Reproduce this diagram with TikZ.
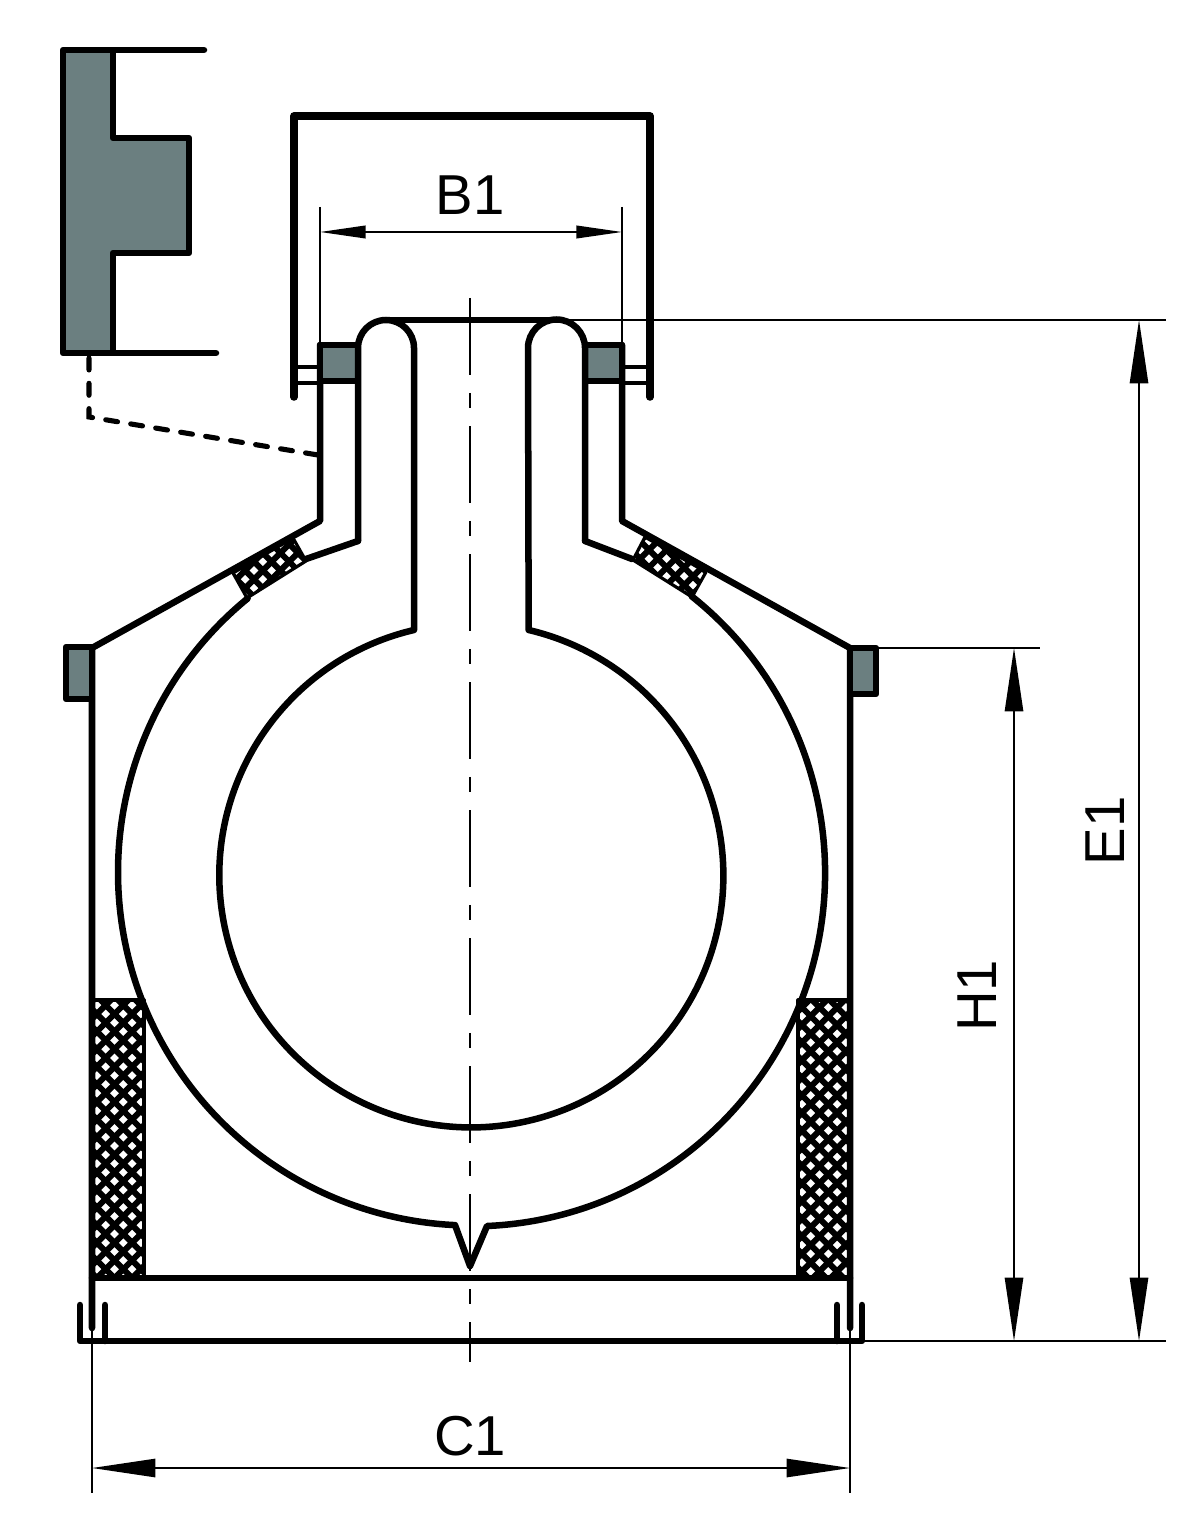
\documentclass[tikz,border=0pt]{standalone}
\usepackage{fontspec}
\setmainfont{Liberation Sans}
\usetikzlibrary{arrows.meta}

\definecolor{steelgray}{HTML}{6B7F80}
\tikzset{
    wall/.style={line width=1.85pt, line join=round, line cap=round},
    coverwall/.style={line width=2.15pt, line join=round, line cap=round},
    tabline/.style={line width=1.4pt},
    thinline/.style={line width=0.5pt},
    seal/.style={wall, fill=steelgray},
    mesh/.style={line width=1.7pt},
    centerline/.style={line width=0.55pt, dash pattern=on 21.9pt off 5.1pt on 4.3pt off 5.1pt},
    leader/.style={line width=1.45pt, line cap=round, dash pattern=on 3.4pt off 3.8pt},
    dimlarge/.style={thinline, {Triangle[length=18pt,width=5.2pt]}-{Triangle[length=18pt,width=5.2pt]}},
    dimsmall/.style={thinline, {Triangle[length=13pt,width=3.6pt]}-{Triangle[length=13pt,width=3.6pt]}},
    dimlabel/.style={font=\fontsize{16}{18}\selectfont, inner sep=0pt}
}
% woven filling of a block: #1 outline, #2 shift of the weave
\newcommand{\meshfill}[2]{
    \begin{scope}
        \clip #1;
        \begin{scope}[shift={#2}]
            \foreach \k in {-24,...,60} {
                \draw[mesh] ({1128.5+17.6*\k-400},400) -- ({1128.5+17.6*\k-1400},1400);
            }
            \foreach \k in {-20,...,62} {
                \draw[mesh] ({-899.5+17.6*\k+400},400) -- ({-899.5+17.6*\k+1400},1400);
            }
        \end{scope}
    \end{scope}
    \draw[line width=0.9pt, line join=round] #1;
}

\begin{document}
\begin{tikzpicture}[x=0.01cm, y=-0.01cm]
    \useasboundingbox (0,0) rectangle (1200,1528);

    % Woven blocks
    \meshfill{(92,1000) rectangle (144,1278)}{(0,0)}
    \meshfill{(798,1000) rectangle (850,1278)}{(1,-6.6)}
    \meshfill{(233,573) -- (293,538) -- (306,561) -- (247,598) -- cycle}{(-1.3,5.3)}
    \meshfill{(645,537) -- (706,572) -- (692,597) -- (633,560) -- cycle}{(-2.3,2.3)}

    % Section of the profile, top left
    \draw[seal] (63,50) -- (113,50) -- (113,138) -- (189,138) -- (189,253) -- (113,253) -- (113,353) -- (63,353) -- cycle;
    \draw[wall] (113,50) -- (204,50);
    \draw[wall] (113,353) -- (216,353);
    \draw[leader] (89,358) -- (89,417) -- (318,455);

    % Cover
    \draw[coverwall] (294,397) -- (294,116) -- (650,116) -- (650,397);
    \draw[tabline] (296,367) -- (320,367);
    \draw[tabline] (296,383) -- (320,383);
    \draw[tabline] (622,367) -- (648,367);
    \draw[tabline] (622,383) -- (648,383);

    % Jacket
    \draw[wall] (320,345) -- (320,521) -- (92,648) -- (92,1328);
    \draw[wall] (622,345) -- (622,521) -- (850,648) -- (850,1328);
    \draw[wall] (92,1278) -- (850,1278);

    % Seals
    \draw[seal] (320,345) rectangle (358,381);
    \draw[seal] (585,345) rectangle (622,381);
    \draw[seal] (66,647) rectangle (92,699);
    \draw[seal] (850,648) rectangle (876,694);

    % Inner wall with the neck
    \draw[wall] (358,541) -- (358,348) arc[start angle=180, end angle=360, radius=28]
        -- (414,630) arc[start angle=256.85, end angle=-76.85, radius=252]
        -- (528,348) arc[start angle=180, end angle=360, radius=28.5] -- (585,541);
    \draw[wall] (386,320) -- (556,320);

    % Outer wall with the tip
    \draw[wall] (471.5,872) ++(230.7:353.5) arc[start angle=230.7, end angle=92.67, radius=353.5]
        -- (470,1266) -- (487,1226) arc[start angle=87.5, end angle=-51.5, radius=353.5];
    \draw[wall] (306,559) -- (358,541);
    \draw[wall] (632,559) -- (585,541);

    % Base plate
    \draw[wall] (80,1305) -- (80,1341) -- (862,1341) -- (862,1305);
    \draw[wall] (105,1305) -- (105,1341);
    \draw[wall] (837,1305) -- (837,1341);

    % Center line
    \draw[centerline] (470,298) -- (470,1362);

    % Extension lines
    \draw[thinline] (320,207) -- (320,345);
    \draw[thinline] (622,207) -- (622,345);
    \draw[thinline] (556,320) -- (1166,320);
    \draw[thinline] (876,648) -- (1040,648);
    \draw[thinline] (862,1341) -- (1166,1341);
    \draw[thinline] (92,1328) -- (92,1493);
    \draw[thinline] (850,1328) -- (850,1493);

    % Dimensions
    \draw[dimsmall] (320,232) -- (622,232);
    \draw[dimlarge] (92,1468) -- (850,1468);
    \draw[dimlarge] (1014,648) -- (1014,1341);
    \draw[dimlarge] (1139,320) -- (1139,1341);

    % Labels
    \node[dimlabel] (labelB) at (470,195) {B1};
    \node[dimlabel] (labelC) at (470,1436) {C1};
    \node[dimlabel, rotate=90] (labelH) at (977,996) {H1};
    \node[dimlabel, rotate=90] (labelE) at (1105,831) {E1};
\end{tikzpicture}
\end{document}
